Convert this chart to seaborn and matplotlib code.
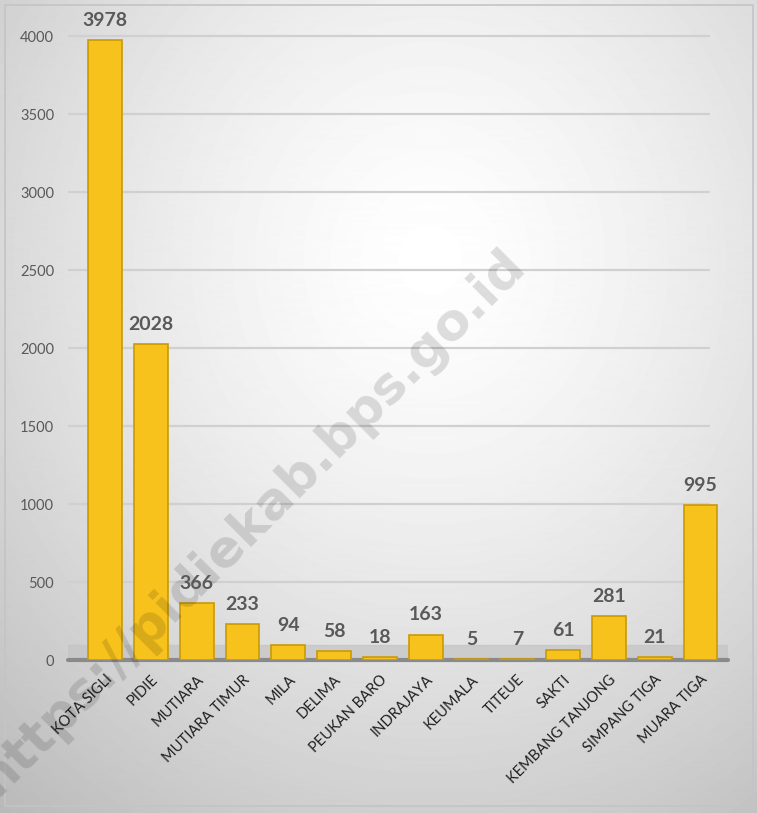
import matplotlib
matplotlib.use("Agg")
import matplotlib.pyplot as plt
import numpy as np
import pandas as pd
import seaborn as sns
from matplotlib.patches import Rectangle

# Data
kecamatan = [
  "KOTA SIGLI", "PIDIE", "MUTIARA", "MUTIARA TIMUR", "MILA", "DELIMA",
  "PEUKAN BARO", "INDRAJAYA", "KEUMALA", "TITEUE", "SAKTI",
  "KEMBANG TANJONG", "SIMPANG TIGA", "MUARA TIGA",
]
jumlah = [3978, 2028, 366, 233, 94, 58, 18, 163, 5, 7, 61, 281, 21, 995]
y_ticks = [0, 500, 1000, 1500, 2000, 2500, 3000, 3500, 4000]
watermark = "https://pidiekab.bps.go.id"

BAR_COLOR = "#F7C21C"
BAR_EDGE = "#C99A06"
TEXT_GREY = "#595959"

sns.set_theme(style="white")
plt.rcParams["font.family"] = ["Lato", "DejaVu Sans"]

fig = plt.figure(figsize=(7.57, 8.13), dpi=100)

# radial grey background
bg = fig.add_axes([0, 0, 1, 1], zorder=0)
yy, xx = np.mgrid[0:813, 0:757]
r = np.sqrt(((xx - 430) / 650.0) ** 2 + ((yy - 260) / 720.0) ** 2)
shade = np.clip(1.0 - 0.27 * r ** 1.4, 0.72, 1.0)
bg.imshow(shade, cmap="gray", vmin=0, vmax=1, aspect="auto", extent=(0, 757, 813, 0))
bg.add_patch(Rectangle((5, 5), 748, 801, fill=False, edgecolor="#c4c4c4", lw=1.2))
bg.set_xlim(0, 757)
bg.set_ylim(813, 0)
bg.axis("off")

df = pd.DataFrame({"kecamatan": kecamatan, "jumlah": jumlah})

ax = fig.add_axes([68 / 757, (813 - 660) / 813, (728 - 68) / 757, 650 / 813], zorder=1)
ax.patch.set_alpha(0)

sns.barplot(data=df, x="kecamatan", y="jumlah", color=BAR_COLOR, saturation=1,
            width=0.74, edgecolor=BAR_EDGE, linewidth=1.2, ax=ax, zorder=3)

ax.set_xlim(-0.81, 13.6)
ax.set_ylim(0, 4170)

# back wall gridlines and floor
for v in y_ticks[1:]:
  ax.axhline(v, xmin=0.0, xmax=(709 - 68) / (728 - 68), color="#d0d0d0", lw=1.6, zorder=0.5)
ax.axhspan(0, 95, color="#c4c4c4", alpha=0.7, zorder=1)
ax.axhline(0, color="#8a8a8a", lw=3, zorder=2, clip_on=False)

for i, v in enumerate(jumlah):
  ax.annotate(str(v), (i, v), xytext=(0, 8), textcoords="offset points",
              ha="center", va="bottom", fontsize=14, fontweight="bold",
              color=TEXT_GREY, zorder=5)

ax.set_yticks(y_ticks)
ax.set_yticklabels([str(t) for t in y_ticks], fontsize=10.5, color=TEXT_GREY)
ax.tick_params(axis="y", length=0, pad=10)
ax.set_xticks(range(len(kecamatan)))
ax.set_xticklabels(kecamatan, rotation=45, ha="right", rotation_mode="anchor",
                   fontsize=10.5, color="#1f1f1f")
ax.tick_params(axis="x", length=0, pad=9)
ax.set_xlabel("")
ax.set_ylabel("")
sns.despine(ax=ax, left=True, bottom=True)

# watermark sits over the bars, darkening what lies beneath it
ax.text(252 / 757, 1 - 522 / 813, watermark, transform=fig.transFigure,
        rotation=45, ha="center", va="center", fontsize=37, fontweight="bold",
        color="black", alpha=0.13, family="DejaVu Sans", zorder=4)

fig.savefig("out.png", dpi=100)
